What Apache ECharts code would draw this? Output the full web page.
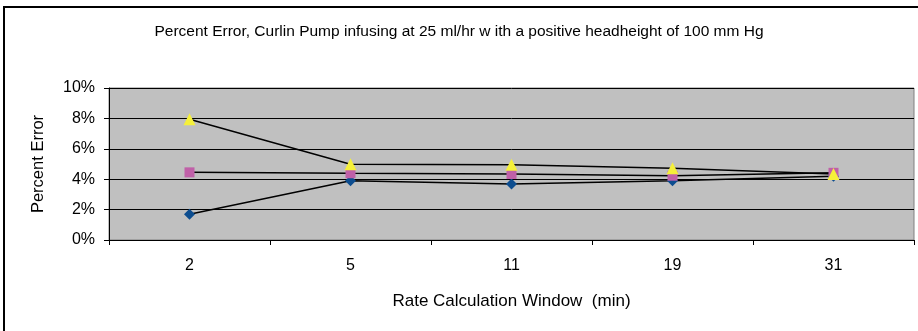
<!DOCTYPE html>
<html><head><meta charset="utf-8">
<script src="https://cdn.jsdelivr.net/npm/echarts@6/dist/echarts.min.js"></script>
<style>html,body{margin:0;padding:0;background:#fff}#c{width:918px;height:331px}</style>
</head><body><div id="c"></div>
<script>
var categories = ['2', '5', '11', '19', '31'];
var seriesBlue = [1.7, 3.9, 3.68, 3.9, 4.2];
var seriesPink = [4.45, 4.39, 4.34, 4.23, 4.42];
var seriesYellow = [7.95, 4.98, 4.95, 4.72, 4.35];
var yTicks = [0, 2, 4, 6, 8, 10];

var chart = echarts.init(document.getElementById('c'));
var font = 'Liberation Sans, Arial, sans-serif';
function mk(name, data, color, symbol, size) {
  return {
    name: name, type: 'line', data: data, symbol: symbol, symbolSize: size,
    itemStyle: { color: color }, lineStyle: { color: '#000', width: 1.5 },
    animation: false
  };
}
chart.setOption({
  animation: false,
  backgroundColor: '#fff',
  title: {
    text: 'Percent Error, Curlin Pump infusing at 25 ml/hr w ith a positive headheight of 100 mm Hg',
    left: 'center', top: 19,
    textStyle: { fontFamily: font, fontSize: 15.5, fontWeight: 'normal', color: '#000' }
  },
  graphic: [{
    type: 'rect', shape: { x: 4, y: 7, width: 930, height: 340 },
    style: { fill: 'none', stroke: '#000', lineWidth: 2 }, z: 100, silent: true
  }],
  grid: { left: 109, right: 4, top: 88, bottom: 91, show: true, backgroundColor: '#c0c0c0', borderColor: '#808080', borderWidth: 1 },
  xAxis: {
    type: 'category', data: categories, boundaryGap: true,
    name: 'Rate Calculation Window  (min)', nameLocation: 'middle', nameGap: 53,
    nameTextStyle: { fontFamily: font, fontSize: 17, color: '#000' },
    axisLine: { lineStyle: { color: '#000', width: 1 } },
    axisTick: { show: true, length: 5, lineStyle: { color: '#000' } },
    axisLabel: { fontFamily: font, fontSize: 16, color: '#000', margin: 18 }
  },
  yAxis: {
    type: 'value', min: yTicks[0], max: yTicks[yTicks.length - 1], interval: 2,
    name: 'Percent Error', nameLocation: 'middle', nameGap: 62,
    nameTextStyle: { fontFamily: font, fontSize: 16.5, color: '#000' },
    axisLine: { show: true, lineStyle: { color: '#000', width: 1 } },
    axisTick: { show: true, length: 5, lineStyle: { color: '#000' } },
    axisLabel: { fontFamily: font, fontSize: 16, color: '#000', margin: 14, formatter: '{value}%' },
    splitLine: { show: true, lineStyle: { color: '#000', width: 1 } }
  },
  series: [
    mk('A', seriesBlue, '#0d4d8f', 'diamond', 11),
    mk('B', seriesPink, '#c060a8', 'rect', 10),
    mk('C', seriesYellow, '#f5f03a', 'triangle', 12)
  ]
});
</script></body></html>
